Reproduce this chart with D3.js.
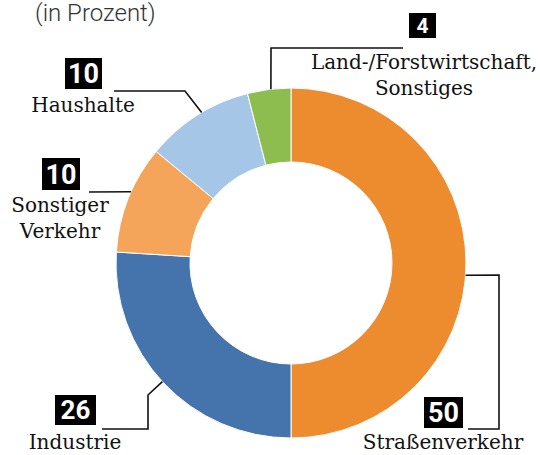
<!DOCTYPE html>
<html>
<head>
<meta charset="utf-8">
<script src="https://cdn.jsdelivr.net/npm/d3@7"></script>
<style>
  body { margin: 0; background: #fff; }
  svg { display: block; }
</style>
</head>
<body>
<div id="chart"></div>
<script>
// Anteile (in Prozent)
const categories = ["Straßenverkehr", "Industrie", "Sonstiger Verkehr", "Haushalte", "Land-/Forstwirtschaft, Sonstiges"];
const values = [50, 26, 10, 10, 4];
const colors = ["#ed8b2f", "#4574ac", "#f4a55a", "#a5c6e6", "#8dbd4f"];

// Beschriftungen: Zeilen, Position, Leitlinie (letzter Punkt liegt auf dem Ring)
const labelLayout = [
  { lines: ["Straßenverkehr"], x: 443, y: 449, box: [424, 397, 39, 31], fs: 27,
    path: [[468, 429], [499, 429], [499, 275]], angle: 94 },
  { lines: ["Industrie"], x: 75, y: 449, box: [55, 395, 41, 30], fs: 26,
    path: [[102, 429], [148, 429], [148, 395]], angle: 227.3 },
  { lines: ["Sonstiger", "Verkehr"], x: 60, y: 212, box: [42, 158, 38, 32], fs: 27,
    path: [[89, 192]], angle: 294 },
  { lines: ["Haushalte"], x: 83, y: 112, box: [65, 58, 37, 31], fs: 27,
    path: [[114, 91], [185, 91]], angle: 329.3 },
  { lines: ["Land-/Forstwirtschaft,", "Sonstiges"], x: 424, y: 69, box: [409, 13, 27, 25], fs: 21,
    path: [[403, 48], [271, 48]], angle: 353.4 }
];

const W = 540, H = 455;
const cx = 291, cy = 263;
const outerR = 175, innerR = 101;

const svg = d3.select("#chart").append("svg")
  .attr("width", W).attr("height", H);

// Untertitel
svg.append("text")
  .attr("x", 35).attr("y", 21)
  .style("font-family", "Roboto")
  .style("font-weight", 300)
  .style("font-size", "24px")
  .style("fill", "#333")
  .text("(in Prozent)");

const pie = d3.pie().sort(null).value(d => d)(values);
const arc = d3.arc().innerRadius(innerR).outerRadius(outerR);

const g = svg.append("g").attr("transform", `translate(${cx},${cy})`);

g.selectAll("path.slice")
  .data(pie)
  .enter()
  .append("path")
  .attr("class", "slice")
  .attr("d", arc)
  .style("fill", (d, i) => colors[i])
  .style("stroke", "#fff")
  .style("stroke-width", 1);

// Leitlinien
const line = d3.line();
labelLayout.forEach(l => {
  const a = l.angle * Math.PI / 180;
  const end = [cx + outerR * Math.sin(a), cy - outerR * Math.cos(a)];
  svg.append("path")
    .attr("d", line(l.path.concat([end])))
    .style("fill", "none")
    .style("stroke", "#111")
    .style("stroke-width", 1.6);
});

// Zahlenboxen und Texte
labelLayout.forEach((l, i) => {
  const [bx, by, bw, bh] = l.box;
  svg.append("rect")
    .attr("x", bx).attr("y", by)
    .attr("width", bw).attr("height", bh)
    .style("fill", "#000");
  svg.append("text")
    .attr("x", bx + bw / 2)
    .attr("y", by + bh / 2)
    .attr("dy", "0.36em")
    .attr("text-anchor", "middle")
    .style("font-family", "Roboto")
    .style("font-weight", 700)
    .style("font-size", l.fs + "px")
    .style("fill", "#fff")
    .text(values[i]);

  const t = svg.append("text")
    .attr("text-anchor", "middle")
    .style("font-family", "'DejaVu Serif', serif")
    .style("font-size", "20px")
    .style("fill", "#111");
  l.lines.forEach((s, k) => {
    t.append("tspan")
      .attr("x", l.x)
      .attr("y", l.y + k * 26)
      .text(s);
  });
});
</script>
</body>
</html>
